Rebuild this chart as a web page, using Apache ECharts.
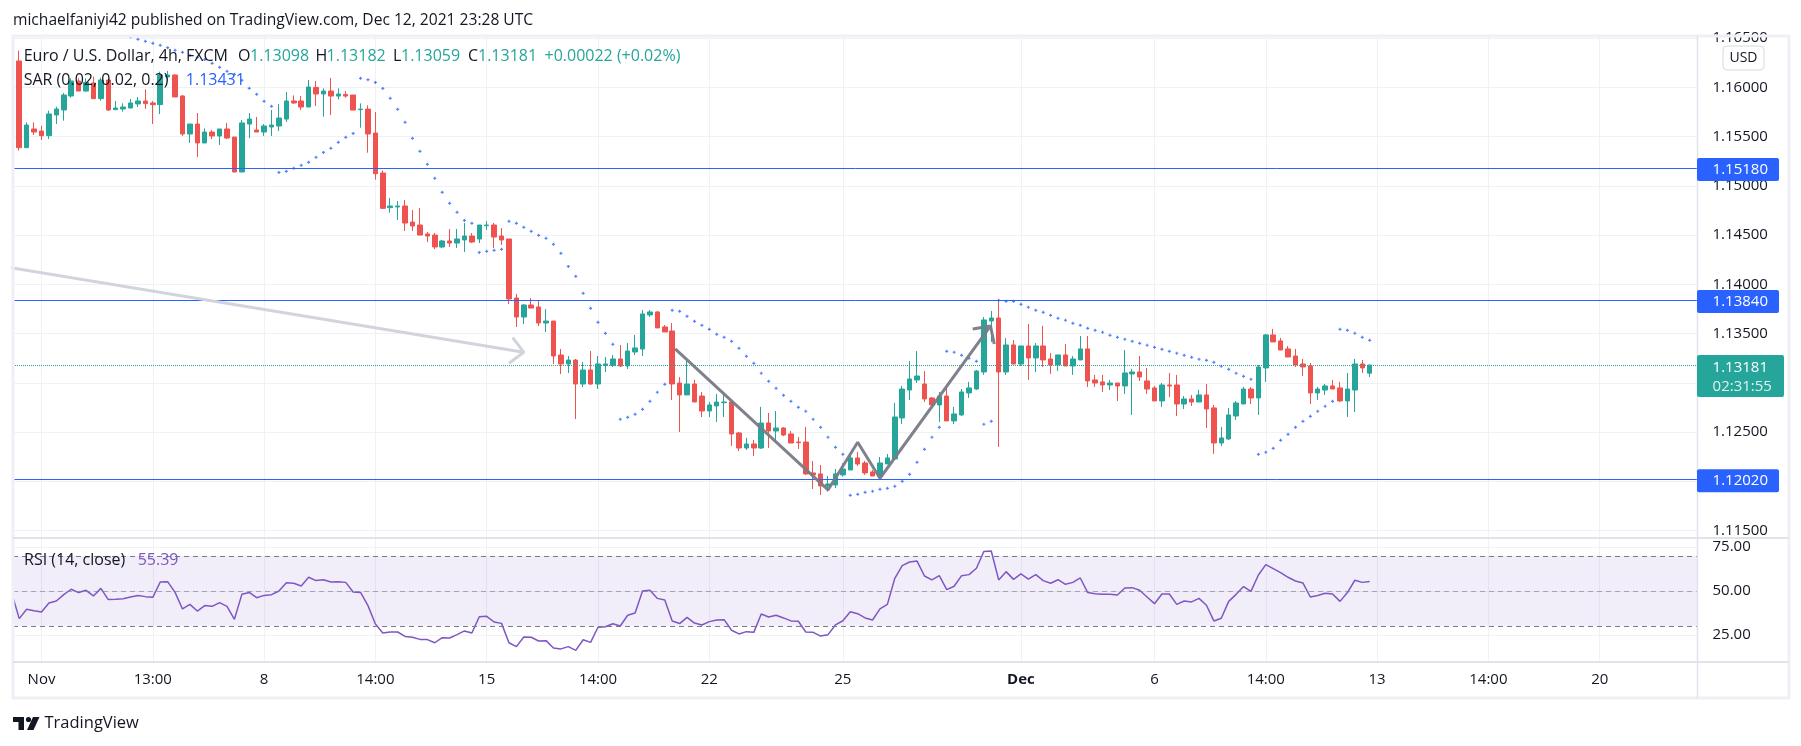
<!DOCTYPE html>
<html><head><meta charset="utf-8">
<style>html,body{margin:0;padding:0;background:#fff}#c{width:1801px;height:746px}</style>
<script src="https://cdn.jsdelivr.net/npm/echarts@6/dist/echarts.min.js"></script>
</head><body><div id="c"></div>
<script>
const firstBar = -3;
const opens = [
1.16267,1.15387,1.15577,1.15556,1.15509,1.15719,1.15770,1.15912,1.16064,
1.15962,1.16044,1.15885,1.16074,1.15773,1.15780,1.15790,1.15831,1.15861,1.15841,
1.15824,1.16105,1.16125,1.15912,1.15526,1.15627,1.15435,1.15546,1.15506,1.15577,
1.15495,1.15140,1.15627,1.15567,1.15546,1.15597,1.15607,1.15678,1.15861,1.15861,
1.15800,1.15999,1.15932,1.15962,1.15911,1.15928,1.15922,1.15773,1.15779,1.15536,
1.15130,1.14778,1.14785,1.14795,1.14632,1.14602,1.14511,1.14500,1.14379,1.14440,
1.14419,1.14450,1.14490,1.14460,1.14595,1.14602,1.14490,1.14460,1.13861,1.13668,
1.13790,1.13770,1.13607,1.13627,1.13282,1.13191,1.13231,1.12988,1.13130,1.12988,
1.13177,1.13177,1.13242,1.13171,1.13313,1.13343,1.13689,1.13719,1.13567,1.13526,
1.12998,1.12877,1.12988,1.12866,1.12714,1.12765,1.12798,1.12805,1.12491,1.12338,
1.12379,1.12338,1.12592,1.12511,1.12541,1.12481,1.12399,1.12399,1.12085,1.12075,
1.11953,1.11963,1.12065,1.12115,1.12237,1.12186,1.12095,1.12054,1.12176,1.12227,
1.12643,1.12927,1.13029,1.12988,1.12846,1.12775,1.12866,1.12613,1.12674,1.12897,
1.12937,1.13110,1.13628,1.13658,1.13110,1.13384,1.13191,1.13374,1.13252,1.13374,
1.13242,1.13181,1.13283,1.13171,1.13232,1.13344,1.13029,1.13009,1.12978,1.12998,
1.12968,1.13090,1.13110,1.13019,1.12948,1.12816,1.12978,1.12978,1.12785,1.12836,
1.12805,1.12877,1.12745,1.12389,1.12430,1.12663,1.12785,1.12937,1.12846,1.13151,
1.13486,1.13425,1.13344,1.13272,1.13191,1.13171,1.12897,1.12927,1.12968,1.12948,
1.12816,1.12927,1.13191,1.13098];
const closes = [
1.15387,1.15617,1.15546,1.15509,1.15729,1.15780,1.15922,1.16064,1.15962,
1.16050,1.15885,1.16074,1.15770,1.15790,1.15800,1.15841,1.15861,1.15834,1.15824,
1.16125,1.16125,1.15902,1.15526,1.15627,1.15435,1.15546,1.15506,1.15577,1.15485,
1.15140,1.15638,1.15678,1.15546,1.15607,1.15617,1.15688,1.15861,1.15841,1.15800,
1.16003,1.15932,1.15962,1.15911,1.15932,1.15911,1.15769,1.15779,1.15526,1.15123,
1.14771,1.14795,1.14795,1.14622,1.14592,1.14500,1.14490,1.14379,1.14440,1.14419,
1.14460,1.14490,1.14429,1.14602,1.14602,1.14480,1.14450,1.13851,1.13668,1.13790,
1.13759,1.13607,1.13627,1.13272,1.13191,1.13231,1.12988,1.13130,1.12988,1.13191,
1.13191,1.13242,1.13171,1.13323,1.13354,1.13699,1.13719,1.13557,1.13516,1.12988,
1.12877,1.12988,1.12805,1.12714,1.12775,1.12805,1.12805,1.12481,1.12338,1.12379,
1.12338,1.12592,1.12511,1.12541,1.12470,1.12389,1.12392,1.12075,1.12065,1.11953,
1.11973,1.12075,1.12125,1.12237,1.12176,1.12085,1.12054,1.12186,1.12237,1.12653,
1.12937,1.13039,1.13069,1.12836,1.12775,1.12866,1.12613,1.12684,1.12907,1.12948,
1.13120,1.13638,1.13658,1.13110,1.13384,1.13191,1.13374,1.13252,1.13374,1.13232,
1.13181,1.13283,1.13171,1.13242,1.13344,1.13019,1.12998,1.12978,1.12998,1.12968,
1.13100,1.13110,1.13059,1.12937,1.12816,1.12978,1.12968,1.12785,1.12836,1.12805,
1.12877,1.12734,1.12389,1.12440,1.12674,1.12795,1.12937,1.12846,1.13161,1.13486,
1.13415,1.13333,1.13262,1.13181,1.13161,1.12897,1.12937,1.12968,1.12937,1.12816,
1.12937,1.13191,1.13151,1.13181];
const highs = [
1.16372,1.15644,1.15644,1.15607,1.15763,1.15803,1.15942,1.16091,1.16091,
1.16091,1.16108,1.16098,1.16091,1.15861,1.15837,1.15881,1.15902,1.15979,1.15861,
1.16159,1.16166,1.16132,1.15922,1.15627,1.15739,1.15583,1.15567,1.15577,1.15638,
1.15495,1.15668,1.15739,1.15699,1.15627,1.15770,1.15831,1.15952,1.15918,1.15912,
1.16074,1.16064,1.15989,1.16094,1.15989,1.15962,1.15922,1.15837,1.15817,1.15749,
1.15154,1.14876,1.14846,1.14856,1.14754,1.14775,1.14531,1.14521,1.14450,1.14561,
1.14561,1.14622,1.14521,1.14602,1.14643,1.14622,1.14571,1.14460,1.13902,1.13800,
1.13861,1.13830,1.13749,1.13627,1.13343,1.13272,1.13242,1.13211,1.13323,1.13272,
1.13262,1.13282,1.13384,1.13404,1.13486,1.13739,1.13739,1.13729,1.13587,1.13607,
1.13059,1.13222,1.13029,1.12907,1.12805,1.12887,1.12907,1.12805,1.12501,1.12440,
1.12420,1.12755,1.12694,1.12714,1.12552,1.12511,1.12450,1.12552,1.12206,1.12166,
1.12054,1.12125,1.12183,1.12267,1.12298,1.12206,1.12115,1.12247,1.12277,1.12795,
1.12968,1.13222,1.13323,1.13120,1.12856,1.12907,1.12948,1.12755,1.12937,1.13009,
1.13130,1.13668,1.13729,1.13841,1.13455,1.13435,1.13374,1.13597,1.13404,1.13577,
1.13303,1.13283,1.13394,1.13272,1.13475,1.13475,1.13080,1.13080,1.13029,1.12998,
1.13333,1.13141,1.13272,1.13151,1.12968,1.12998,1.13100,1.13080,1.12866,1.12877,
1.12927,1.12988,1.12775,1.12552,1.12745,1.12816,1.12958,1.12958,1.13181,1.13496,
1.13547,1.13455,1.13374,1.13344,1.13242,1.13201,1.12958,1.12988,1.13029,1.13009,
1.13100,1.13242,1.13232,1.13182];
const lows = [
1.15357,1.15387,1.15516,1.15465,1.15475,1.15627,1.15661,1.15895,1.15962,
1.15956,1.15885,1.15864,1.15759,1.15773,1.15753,1.15787,1.15800,1.15780,1.15627,
1.15729,1.16064,1.15902,1.15506,1.15435,1.15292,1.15435,1.15475,1.15414,1.15475,
1.15140,1.15140,1.15485,1.15546,1.15506,1.15506,1.15556,1.15648,1.15831,1.15770,
1.15800,1.15810,1.15702,1.15719,1.15878,1.15895,1.15769,1.15590,1.15336,1.15062,
1.14764,1.14727,1.14653,1.14541,1.14541,1.14500,1.14429,1.14358,1.14368,1.14379,
1.14368,1.14328,1.14419,1.14419,1.14551,1.14368,1.14399,1.13800,1.13567,1.13597,
1.13759,1.13577,1.13516,1.13191,1.13089,1.13099,1.12632,1.12957,1.12978,1.12937,
1.13110,1.13160,1.13161,1.13140,1.13283,1.13272,1.13668,1.13557,1.13516,1.12826,
1.12501,1.12877,1.12805,1.12653,1.12653,1.12602,1.12653,1.12359,1.12308,1.12318,
1.12257,1.12328,1.12338,1.12399,1.12460,1.12389,1.12328,1.12065,1.11922,1.11861,
1.11895,1.11932,1.12048,1.12115,1.12156,1.12065,1.12054,1.12031,1.12176,1.12217,
1.12582,1.12826,1.12998,1.12805,1.12765,1.12602,1.12613,1.12582,1.12663,1.12846,
1.12927,1.13080,1.13415,1.12349,1.13080,1.13191,1.13171,1.13029,1.13110,1.13161,
1.13090,1.13120,1.13171,1.13080,1.13232,1.12958,1.12958,1.12907,1.12927,1.12816,
1.12887,1.12674,1.13019,1.12887,1.12816,1.12755,1.12856,1.12663,1.12734,1.12765,
1.12805,1.12541,1.12278,1.12359,1.12420,1.12623,1.12785,1.12785,1.12674,1.13009,
1.13415,1.13333,1.13262,1.13161,1.13069,1.12785,1.12826,1.12877,1.12937,1.12805,
1.12653,1.12704,1.13100,1.13059];
// Parabolic SAR, one value per bar (null = no dot on screen)
const sar = [
null,null,null,null,null,null,null,null,null,null,
null,null,null,null,null,
1.16514,1.16487,1.16467,1.16446,1.16426,1.16402,1.16375,1.16355,1.16325,1.16304,
1.16281,1.16243,1.16203,1.16162,1.16132,1.16071,1.15990,1.15929,1.15858,1.15807,
1.15136,1.15147,1.15177,1.15208,1.15238,1.15289,1.15339,1.15380,1.15441,1.15492,1.15532,
1.16091,1.16077,1.16050,1.15989,1.15888,1.15776,1.15644,1.15482,1.15350,1.15218,
1.15076,1.14934,1.14822,1.14731,1.14649,1.14619,
1.14324,1.14335,1.14345,1.14355,
1.14639,1.14619,1.14578,1.14538,1.14497,1.14467,1.14406,1.14314,1.14182,1.14081,
1.13908,1.13756,1.13614,1.13502,1.13391,
1.12630,1.12650,1.12680,1.12731,1.12812,1.12904,1.12985,
1.13736,1.13726,1.13675,1.13624,1.13584,1.13543,1.13492,1.13462,1.13421,1.13350,
1.13269,1.13198,1.13097,1.13015,1.12944,1.12873,1.12812,1.12751,1.12711,1.12630,
1.12548,1.12447,1.12345,1.12274,
1.11858,1.11868,1.11888,1.11899,1.11919,1.11929,1.11949,1.12000,1.12071,1.12193,
1.12325,1.12447,1.12548,
1.13320,1.13310,1.13279,1.13249,1.13218,
1.12579,1.12609,
1.13838,1.13827,1.13827,1.13797,1.13767,1.13736,1.13716,1.13685,1.13655,1.13635,
1.13604,1.13584,1.13553,1.13533,1.13513,1.13482,1.13462,1.13442,1.13421,1.13401,
1.13381,1.13360,1.13340,1.13320,1.13300,1.13279,1.13259,1.13239,1.13228,1.13208,
1.13168,1.13137,1.13097,1.13066,1.13036,
1.12274,1.12295,1.12335,1.12416,1.12477,1.12548,1.12609,1.12660,1.12711,1.12762,1.12812,
1.13543,1.13533,1.13503,1.13462,1.13431];
const rsi = [
34.3,39.6,38.8,38.1,43.2,44.3,47.9,51.0,49.1,
50.4,47.2,51.5,45.1,45.3,45.6,46.6,47.4,46.8,46.4,
55.1,55.3,49.2,39.8,42.4,38.6,41.7,41.3,43.4,41.3,
33.9,48.1,49.2,46.2,47.5,47.9,50.0,54.7,54.4,52.8,
57.8,55.9,56.4,55.1,55.3,54.9,49.4,49.2,41.7,31.2,
26.1,26.7,26.7,24.2,23.7,22.5,22.4,20.6,23.5,23.3,
25.2,27.3,26.1,35.4,35.6,32.4,31.6,20.6,18.4,23.9,
23.7,21.6,21.8,17.6,17.1,18.4,16.3,22.3,20.8,29.4,
29.7,31.4,30.1,36.2,37.5,50.0,50.4,45.8,44.9,33.0,
31.5,35.0,31.8,30.7,32.6,33.5,33.7,27.7,25.6,26.9,
26.5,36.9,35.2,36.2,34.7,33.0,32.8,26.7,26.5,24.4,
25.2,30.7,33.1,38.2,37.1,34.7,33.5,39.8,42.4,57.2,
64.4,66.5,67.0,58.5,56.3,58.7,50.8,52.7,58.7,59.3,
62.9,72.4,72.7,56.3,61.0,56.6,59.7,56.8,59.3,55.9,
54.4,56.4,53.8,54.9,57.4,49.1,48.5,48.1,48.1,47.7,
51.7,51.9,50.4,46.6,42.8,48.3,48.3,42.4,44.3,43.8,
45.8,41.9,33.0,34.5,44.1,48.1,52.5,49.8,59.1,65.0,
62.7,60.4,57.8,55.7,54.6,46.6,47.4,48.7,48.3,44.1,
49.1,56.1,54.9,55.39];
const rsiBefore = 48.7; // value just left of the visible range
const levels = [1.15180, 1.13840, 1.12020];
const lastPrice = 1.13181;
const priceTicks = [1.115,1.12,1.125,1.13,1.135,1.14,1.145,1.15,1.155,1.16,1.165];
const rsiTicks = [25,50,75];
const timeTickBars = [0,15,30,45,60,75,90,108,132,150,165,180,195,210];
const timeTickLabels = ['Nov','13:00','8','14:00','15','14:00','22','25','Dec','6','14:00','13','14:00','20'];
// hand-drawn annotations, in bar index / price
const arrowBars = [-10,65,63.5,65,63];
const arrowPrices = [1.14242,1.13310,1.13458,1.13310,1.13198];
const zigzagBars = [85.4,106,110,113,127.9,125.5,127.9,128.4];
const zigzagPrices = [1.13344,1.11912,1.12396,1.12031,1.13577,1.13547,1.13577,1.13394];

const FONT = '"Open Sans"';
const TXT = '#131722', GRID = '#f0f1f4', UP = '#26a69a', DOWN = '#ef5350', BLUE = '#2962ff', PURPLE = '#7e57c2';
const barOf = k => firstBar + k;
const xMin = -3.841, xMax = 223.18;

const hLine = (v, color, type, width) => ({yAxis: v, lineStyle: {color, type, width}});
const labelStyle = {color: TXT, fontFamily: FONT, fontSize: 15};

const chart = echarts.init(document.getElementById('c'), null, {renderer: 'canvas'});
const xBase = {type: 'value', min: xMin, max: xMax, axisLine: {show: false},
  axisTick: {show: false, customValues: timeTickBars},
  splitLine: {show: true, lineStyle: {color: GRID, width: 1}}};

chart.setOption({
  animation: false,
  backgroundColor: '#fff',
  grid: [
    {left: 13, width: 1684.5, top: 35, height: 503},
    {left: 13, width: 1684.5, top: 538, height: 124}
  ],
  xAxis: [
    Object.assign({gridIndex: 0, axisLabel: {show: false}}, xBase),
    Object.assign({gridIndex: 1, axisLabel: {show: true, customValues: timeTickBars, margin: 10,
      color: TXT, fontFamily: FONT, fontSize: 15,
      formatter: v => {
        const t = timeTickLabels[timeTickBars.indexOf(v)];
        return t === 'Dec' ? '{b|' + t + '}' : t;
      },
      rich: {b: {fontWeight: 'bold', color: TXT, fontFamily: FONT, fontSize: 15}}}}, xBase)
  ],
  yAxis: [
    {gridIndex: 0, type: 'value', position: 'right', min: 1.114244, max: 1.16531,
     axisLine: {show: false}, axisTick: {show: false, customValues: priceTicks},
     splitLine: {show: true, lineStyle: {color: GRID, width: 1}},
     axisLabel: Object.assign({customValues: priceTicks, margin: 15, formatter: v => v.toFixed(5)}, labelStyle)},
    {gridIndex: 1, type: 'value', position: 'right', min: 9.66, max: 80.11,
     axisLine: {show: false}, axisTick: {show: false, customValues: rsiTicks},
     splitLine: {show: true, lineStyle: {color: GRID, width: 1}},
     axisLabel: Object.assign({customValues: rsiTicks, margin: 15, formatter: v => v.toFixed(2)}, labelStyle)}
  ],
  series: [
    {type: 'candlestick', xAxisIndex: 0, yAxisIndex: 0, barWidth: 5, z: 3,
     encode: {x: 0, y: [1,2,3,4]},
     itemStyle: {color: UP, color0: DOWN, borderColor: UP, borderColor0: DOWN, borderWidth: 1},
     data: opens.map((o, k) => [barOf(k), o, closes[k], lows[k], highs[k]]),
     markLine: {silent: true, symbol: 'none', precision: 5, label: {show: false}, z: 4, animation: false,
       data: levels.map(v => hLine(v, BLUE, 'solid', 1)).concat([hLine(lastPrice, UP, 'dotted', 1)])}},
    {type: 'scatter', xAxisIndex: 0, yAxisIndex: 0, z: 5,
     symbol: 'path://M1.5 0H3.5V1.5H5V3.5H3.5V5H1.5V3.5H0V1.5H1.5Z', symbolSize: 3,
     itemStyle: {color: BLUE},
     data: sar.map((v, k) => v === null ? null : [barOf(k), v]).filter(d => d)},
    {type: 'line', xAxisIndex: 0, yAxisIndex: 0, z: 6, showSymbol: false, symbol: 'none', silent: true,
     lineStyle: {color: '#d1d4dc', width: 3}, data: arrowBars.map((b, k) => [b, arrowPrices[k]])},
    {type: 'line', xAxisIndex: 0, yAxisIndex: 0, z: 6, showSymbol: false, symbol: 'none', silent: true,
     lineStyle: {color: '#787b86', width: 3, opacity: .95}, data: zigzagBars.map((b, k) => [b, zigzagPrices[k]])},
    {type: 'line', xAxisIndex: 1, yAxisIndex: 1, z: 4, showSymbol: false, symbol: 'none', silent: true,
     lineStyle: {color: PURPLE, width: 1.5},
     data: [[firstBar - 1, rsiBefore]].concat(rsi.map((v, k) => [barOf(k), v])),
     markArea: {silent: true, itemStyle: {color: 'rgba(126,87,194,0.1)'}, data: [[{yAxis: 30}, {yAxis: 70}]]},
     markLine: {silent: true, symbol: 'none', precision: 2, label: {show: false}, animation: false,
       data: [hLine(70, '#787b86', [5,4], 1), hLine(50, 'rgba(120,123,134,.6)', [5,4], 1), hLine(30, '#787b86', [5,4], 1)]}}
  ]
});

const py = v => chart.convertToPixel({yAxisIndex: 0}, v);
const txt = (text, x, y, fill, extra) => ({type: 'text', x, y, z: 20, silent: true,
  style: Object.assign({text, fill, font: '16px ' + FONT, textVerticalAlign: 'middle'}, extra || {})});
const line = (x1, y1, x2, y2, stroke, lineWidth) => ({type: 'line', z: 15, silent: true,
  shape: {x1, y1, x2, y2}, style: {stroke, lineWidth}});
const box = (x, y, width, height, fill) => ({type: 'rect', z: 18, silent: true,
  shape: {x, y, width, height, r: 2}, style: {fill}});

const els = [
  {type: 'rect', z: 14, silent: true, shape: {x: 13, y: 36, width: 1776, height: 662}, style: {fill: 'none', stroke: '#eff0f5', lineWidth: 3}},
  line(13, 538, 1789, 538, '#e0e3eb', 2),
  line(13, 662, 1789, 662, '#e0e3eb', 2),
  line(1697.5, 36, 1697.5, 698, '#e0e3eb', 1.5),
  txt('michaelfaniyi42 published on TradingView.com, Dec 12, 2021 23:28 UTC', 13, 20.5, TXT, {font: '15.6px ' + FONT}),
  txt('Euro / U.S. Dollar, 4h, FXCM', 23.7, 56.5, TXT),
  txt('O', 238, 56.5, TXT), txt('1.13098', 250, 56.5, UP),
  txt('H', 315.5, 56.5, TXT), txt('1.13182', 326.6, 56.5, UP),
  txt('L', 393, 56.5, TXT), txt('1.13059', 401, 56.5, UP),
  txt('C', 468, 56.5, TXT), txt('1.13181', 478, 56.5, UP),
  txt('+0.00022 (+0.02%)', 544.5, 56.5, UP),
  txt('SAR (0.02, 0.02, 0.2)', 23.7, 80, TXT), txt('1.13431', 185.8, 80, BLUE),
  txt('RSI (14, close)', 24, 560, TXT), txt('55.39', 137.7, 560, PURPLE),
  {type: 'rect', z: 18, silent: true, shape: {x: 1723, y: 46, width: 41, height: 24, r: 4}, style: {fill: '#fff', stroke: '#d6d8e0', lineWidth: 1}},
  txt('USD', 1743.5, 58, TXT, {textAlign: 'center', font: '14px ' + FONT, textVerticalAlign: 'middle'}),
  {type: 'polygon', z: 20, silent: true, shape: {points: [[13,717],[24,717],[24,730],[18.5,730],[18.5,722],[13,722]]}, style: {fill: TXT}},
  {type: 'circle', z: 20, silent: true, shape: {cx: 28.5, cy: 719.5, r: 2.6}, style: {fill: TXT}},
  {type: 'polygon', z: 20, silent: true, shape: {points: [[33,717],[39.5,717],[33.5,730],[27,730]]}, style: {fill: TXT}},
  {type: 'text', z: 20, silent: true, x: 44.5, y: 723, style: {text: 'TradingView', fill: TXT, font: '400 16.5px ' + FONT, textVerticalAlign: 'middle'}}
];
levels.forEach(v => {
  const y = py(v);
  els.push(box(1697, y - 10, 82, 23, BLUE));
  els.push(txt(v.toFixed(5), 1712.6, y + 1.5, '#fff', {font: '15px ' + FONT}));
});
const ly = py(lastPrice);
els.push(box(1697, ly - 10, 87, 42, UP));
els.push(txt(lastPrice.toFixed(5), 1712.6, ly + 3, '#fff', {font: '15px ' + FONT}));
els.push(txt('02:31:55', 1712.6, ly + 22, 'rgba(255,255,255,.85)', {font: '15px ' + FONT}));
chart.setOption({graphic: els});
</script></body></html>
